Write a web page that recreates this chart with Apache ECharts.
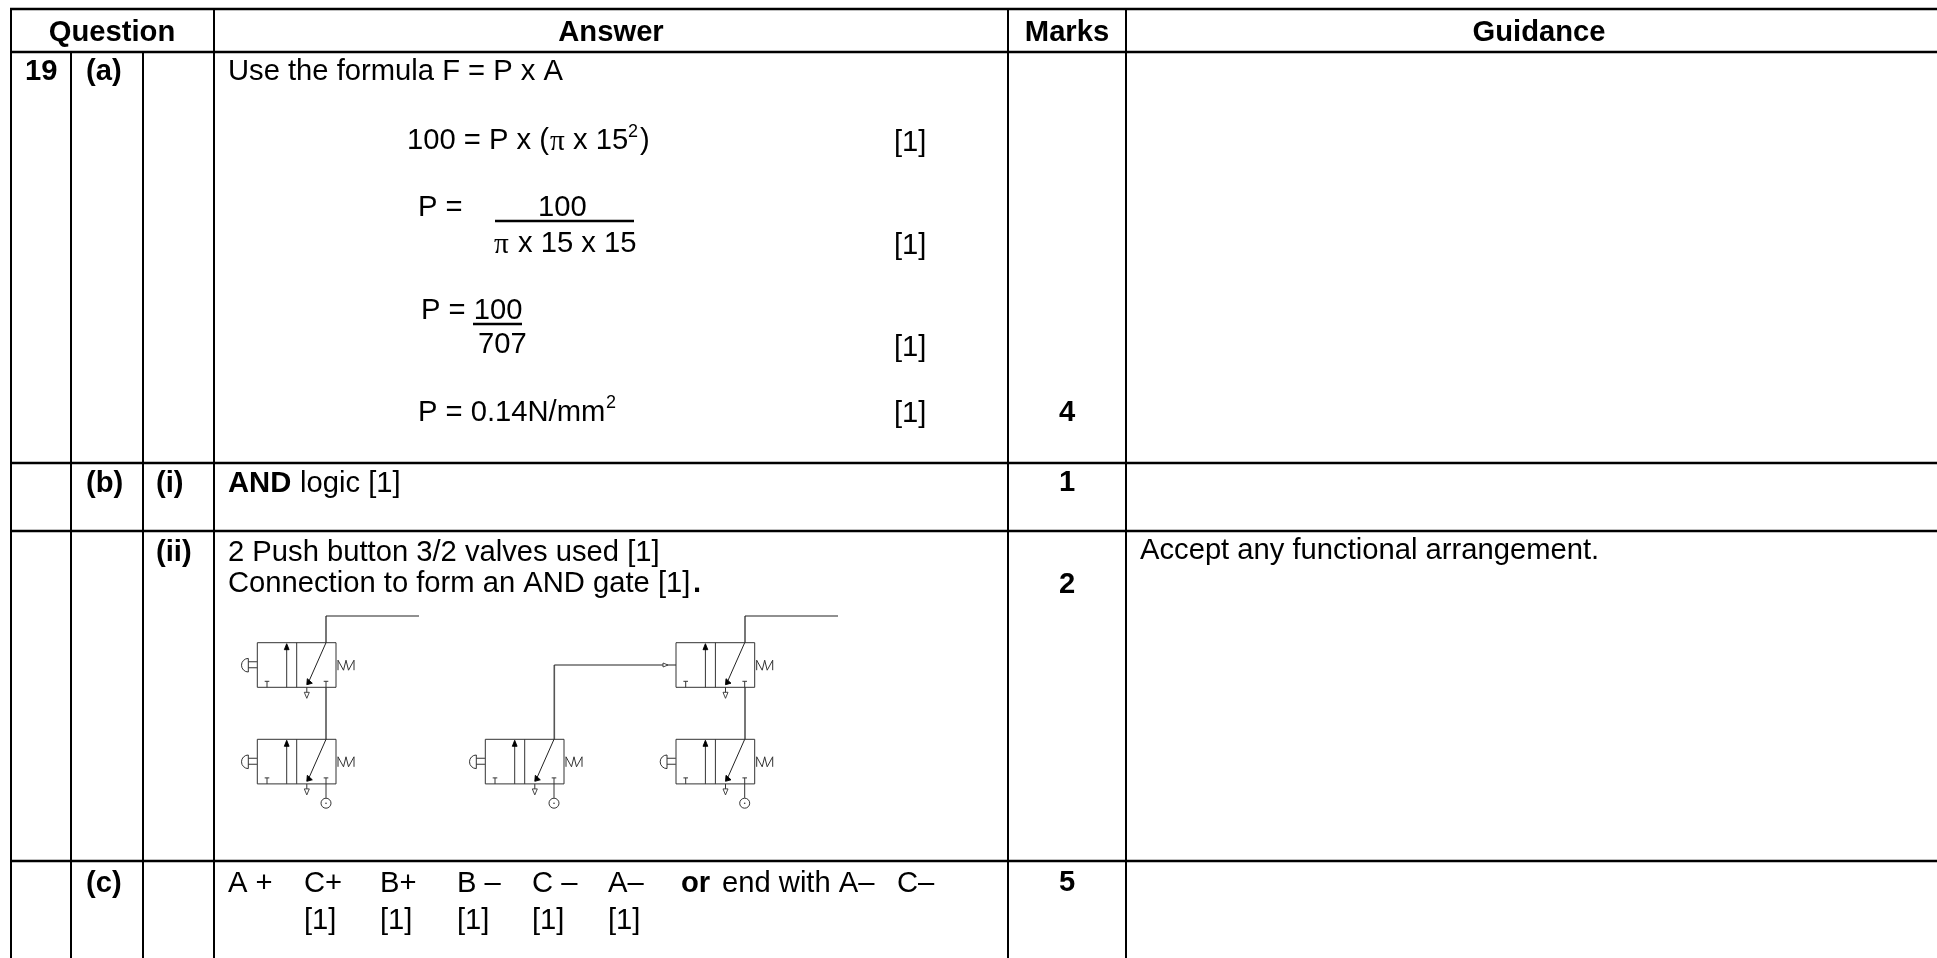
<!DOCTYPE html>
<html>
<head>
<meta charset="utf-8">
<title>Question 19</title>
<script src="https://cdn.jsdelivr.net/npm/echarts@6/dist/echarts.min.js"></script>
<style>
html, body { margin: 0; padding: 0; background: #fff; overflow: hidden; }
#main { width: 1937px; height: 958px; }
</style>
</head>
<body>
<div id="main"></div>
<script>
// 表格线
const columnEdges = [11, 71, 143, 214, 1008, 1126]
const rowEdges = [9, 52, 463, 531, 861]
const sheetRight = 1937
const sheetBottom = 958

// 文字: [text, x, y, kind]  kind: n normal, b bold, c bold centred, s superscript, g symbol
const headerTexts = [
  ['Question', 112, 32, 'c'],
  ['Answer', 611, 32, 'c'],
  ['Marks', 1067, 32, 'c'],
  ['Guidance', 1539, 32, 'c']
]
const partATexts = [
  ['19', 25, 71, 'b'],
  ['(a)', 86, 71, 'b'],
  ['Use the formula F = P x A', 228, 71, 'n'],
  ['100 = P x (', 407, 140, 'n'],
  ['π', 550, 141, 'g'],
  ['x 15', 573, 140, 'n'],
  ['2', 628, 131, 's'],
  [')', 640, 140, 'n'],
  ['[1]', 894, 142, 'n'],
  ['P =', 418, 207, 'n'],
  ['100', 538, 207, 'n'],
  ['π', 494, 244, 'g'],
  ['x 15 x 15', 518, 243, 'n'],
  ['[1]', 894, 245, 'n'],
  ['P = 100', 421, 310, 'n'],
  ['707', 478, 344, 'n'],
  ['[1]', 894, 347, 'n'],
  ['P = 0.14N/mm', 418, 412, 'n'],
  ['2', 606, 402, 's'],
  ['[1]', 894, 413, 'n'],
  ['4', 1067, 412, 'c']
]
const partBTexts = [
  ['(b)', 86, 483, 'b'],
  ['(i)', 156, 483, 'b'],
  ['AND', 228, 483, 'b'],
  ['logic [1]', 300, 483, 'n'],
  ['1', 1067, 482, 'c'],
  ['(ii)', 156, 552, 'b'],
  ['2 Push button 3/2 valves used [1]', 228, 552, 'n'],
  ['Connection to form an AND gate [1]', 228, 583, 'n'],
  ['.', 693, 583, 'b'],
  ['2', 1067, 584, 'c'],
  ['Accept any functional arrangement.', 1140, 550, 'n']
]
const partCTexts = [
  ['(c)', 86, 883, 'b'],
  ['A +', 228, 883, 'n'],
  ['C+', 304, 883, 'n'],
  ['B+', 380, 883, 'n'],
  ['B –', 457, 883, 'n'],
  ['C –', 532, 883, 'n'],
  ['A–', 608, 883, 'n'],
  ['or', 681, 883, 'b'],
  ['end with A–', 722, 883, 'n'],
  ['C–', 897, 883, 'n'],
  ['[1]', 304, 920, 'n'],
  ['[1]', 380, 920, 'n'],
  ['[1]', 457, 920, 'n'],
  ['[1]', 532, 920, 'n'],
  ['[1]', 608, 920, 'n'],
  ['5', 1067, 882, 'c']
]

// 分数线 [x1, y1, x2, y2]
const fractionBars = [
  [495, 221, 634, 221],
  [473, 324, 522, 324]
]

// 阀门 [left, top, hasButton, hasSupply]
const valves = [
  [257.3, 642.7, true, false],
  [257.3, 739.3, true, true],
  [485.3, 739.3, true, true],
  [676, 642.7, false, false],
  [676, 739.3, true, true]
]
// 气路连线 (折线)
const pipes = [
  [[326, 642.7], [326, 616], [419, 616]],
  [[326, 687.3], [326, 739.3]],
  [[554.3, 739.3], [554.3, 665], [676, 665]],
  [[745, 642.7], [745, 616], [838, 616]],
  [[745, 687.3], [745, 739.3]]
]
const pilotMarks = [[663, 665]]

const textFont = '"Liberation Sans", Arial, sans-serif'
const allTexts = [...headerTexts, ...partATexts, ...partBTexts, ...partCTexts]
const textShiftY = 1

// 线段和图形
const segments = []
const addLine = (x1, y1, x2, y2, w, color) => segments.push(['line', x1, y1, x2, y2, w, color])
const polys = []
const addPoly = (points, fill) => polys.push({ points, fill })
const circles = []

columnEdges.forEach((x, i) => {
  // Question 表头内没有竖线
  const from = i === 1 || i === 2 ? rowEdges[1] : rowEdges[0]
  addLine(x, from, x, sheetBottom, 2, '#000')
})
rowEdges.forEach((y) => addLine(columnEdges[0] - 1, y, sheetRight, y, 2.5, '#000'))
fractionBars.forEach((b) => addLine(b[0], b[1], b[2], b[3], 2.4, '#000'))

pipes.forEach((p) => {
  for (let i = 0; i < p.length - 1; i++) {
    const vertical = p[i][0] === p[i + 1][0]
    addLine(p[i][0], p[i][1], p[i + 1][0], p[i + 1][1], vertical ? 1.6 : 1.1, vertical ? '#555' : '#222')
  }
})

valves.forEach(([x, y, hasButton, hasSupply]) => {
  const w = 78.7
  const h = 44.6
  const stroke = '#333'
  addLine(x, y, x + w, y, 1, stroke)
  addLine(x, y + h, x + w, y + h, 1, stroke)
  addLine(x, y, x, y + h, 1, stroke)
  addLine(x + w, y, x + w, y + h, 1, stroke)
  addLine(x + 39.4, y, x + 39.4, y + h, 1, stroke)
  // 左格箭头
  addLine(x + 29.4, y + h, x + 29.4, y + 3, 1, stroke)
  addPoly([[x + 29.4, y + 1], [x + 27, y + 7], [x + 31.8, y + 7]], '#000')
  // T 口
  addLine(x + 9.7, y + h, x + 9.7, y + h - 6, 1, stroke)
  addLine(x + 7.4, y + h - 6, x + 12, y + h - 6, 1, stroke)
  addLine(x + 68.7, y + h, x + 68.7, y + h - 6, 1, stroke)
  addLine(x + 66.4, y + h - 6, x + 71, y + h - 6, 1, stroke)
  // 右格斜线
  addLine(x + 68.7, y, x + 51, y + 40, 1, '#222')
  addPoly([[x + 49.5, y + 42], [x + 50, y + 36], [x + 55, y + 40.5]], '#000')
  // 排气
  addLine(x + 49.5, y + h, x + 49.5, y + h + 5, 1, stroke)
  addPoly([[x + 47, y + h + 5], [x + 52, y + h + 5], [x + 49.5, y + h + 11]], 'none')
  // 弹簧
  const sx = x + w + 2
  const sy = y + 17.5
  const springX = [0, 0, 5.5, 8, 10.5, 16, 16]
  const springY = [10, 0, 10, 0, 10, 0, 10]
  for (let i = 0; i < springX.length - 1; i++) {
    addLine(sx + springX[i], sy + springY[i], sx + springX[i + 1], sy + springY[i + 1], 1, stroke)
  }
  if (hasButton) {
    addLine(x - 9, y + 19, x, y + 19, 1.2, '#555')
    addLine(x - 9, y + 25, x, y + 25, 1.2, '#555')
    addLine(x - 9, y + 15.7, x - 9, y + 29.3, 1, stroke)
    circles.push({ cx: x - 9, cy: y + 22.5, r: 6.8, half: true })
  } else {
    // 气控小三角
    const m = pilotMarks[0]
    addPoly([[m[0], m[1] - 2], [m[0] + 5, m[1]], [m[0], m[1] + 2]], '#fff')
  }
  if (hasSupply) {
    addLine(x + 68.7, y + h, x + 68.7, y + h + 14, 1, stroke)
    circles.push({ cx: x + 68.7, cy: y + h + 19.3, r: 5, half: false })
  }
})

const chart = echarts.init(document.getElementById('main'))

const lineShape = (api, s) => {
  const a = api.coord([s[1], s[2]])
  const b = api.coord([s[3], s[4]])
  return {
    type: 'line',
    shape: { x1: a[0], y1: a[1], x2: b[0], y2: b[1] },
    style: { stroke: s[6], lineWidth: s[5] },
    silent: true
  }
}

chart.setOption({
  animation: false,
  backgroundColor: '#fff',
  grid: { left: 0, right: 0, top: 0, bottom: 0 },
  xAxis: { type: 'value', min: 0, max: sheetRight, show: false },
  yAxis: { type: 'value', min: 0, max: sheetBottom, inverse: true, show: false },
  series: [
    {
      type: 'custom',
      coordinateSystem: 'cartesian2d',
      data: segments.map((s, i) => [s[1], s[2], i]),
      clip: false,
      renderItem: (params, api) => lineShape(api, segments[api.value(2)])
    },
    {
      type: 'custom',
      coordinateSystem: 'cartesian2d',
      data: polys.map((p, i) => [p.points[0][0], p.points[0][1], i]),
      renderItem: (params, api) => {
        const p = polys[api.value(2)]
        return {
          type: 'polygon',
          shape: { points: p.points.map((q) => api.coord(q)) },
          style: { fill: p.fill, stroke: p.fill === '#000' ? '#000' : '#333', lineWidth: 0.9 }
        }
      }
    },
    {
      type: 'custom',
      coordinateSystem: 'cartesian2d',
      data: circles.map((c, i) => [c.cx, c.cy, i]),
      renderItem: (params, api) => {
        const c = circles[api.value(2)]
        const p = api.coord([c.cx, c.cy])
        if (c.half) {
          return {
            type: 'arc',
            shape: { cx: p[0], cy: p[1], r: c.r, startAngle: Math.PI / 2, endAngle: Math.PI * 1.5, clockwise: true },
            style: { fill: 'none', stroke: '#333', lineWidth: 1 }
          }
        }
        return {
          type: 'group',
          children: [
            { type: 'circle', shape: { cx: p[0], cy: p[1], r: c.r }, style: { fill: '#fff', stroke: '#333', lineWidth: 1 } },
            { type: 'circle', shape: { cx: p[0], cy: p[1], r: 0.8 }, style: { fill: '#333' } }
          ]
        }
      }
    },
    {
      type: 'custom',
      coordinateSystem: 'cartesian2d',
      data: allTexts.map((t, i) => [t[1], t[2], i]),
      renderItem: (params, api) => {
        const t = allTexts[api.value(2)]
        const p = api.coord([t[1], t[2] + textShiftY])
        const kind = t[3]
        const bold = kind === 'b' || kind === 'c'
        const size = kind === 's' ? 18 : 29.2
        const family = kind === 'g' ? '"Liberation Serif", serif' : textFont
        return {
          type: 'text',
          x: p[0],
          y: p[1],
          style: {
            x: 0,
            y: 0,
            text: t[0],
            fill: '#000',
            font: `${bold ? 'bold ' : ''}${size}px ${family}`,
            align: kind === 'c' ? 'center' : 'left',
            verticalAlign: 'middle'
          }
        }
      }
    }
  ]
})

window.addEventListener('resize', () => {
  chart.resize()
})
</script>
</body>
</html>
